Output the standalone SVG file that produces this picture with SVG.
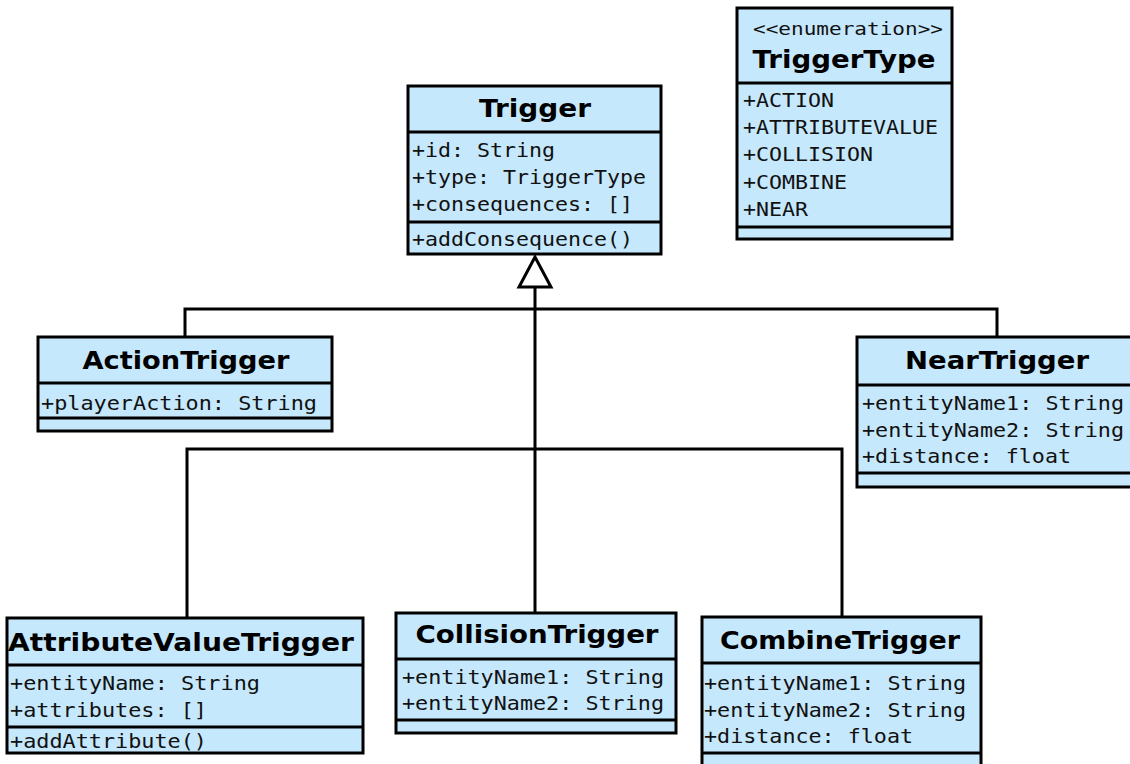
<svg xmlns="http://www.w3.org/2000/svg" width="1130" height="764" viewBox="0 0 1130 764">
  <style>
    .box { fill: #c6e8fc; stroke: #000; stroke-width: 3; }
    .div { stroke: #000; stroke-width: 3; }
    .title { font-family: "DejaVu Sans", "Liberation Sans", sans-serif; font-weight: bold; font-size: 24px; fill: #000; text-anchor: middle; }
    .mono { font-family: "DejaVu Sans Mono", "Liberation Mono", monospace; font-size: 20px; fill: #111; }
    .stereo { font-family: "DejaVu Sans Mono", "Liberation Mono", monospace; font-size: 17px; fill: #111; text-anchor: middle; }
    .edge { fill: none; stroke: #000; stroke-width: 3; }
    .head { fill: #fff; stroke: #000; stroke-width: 3; stroke-linejoin: miter; }
  </style>

  <rect width="1130" height="764" fill="#fff"/>

  <!-- generalization connectors -->
  <g id="connectors">
    <polyline class="edge" points="535,287 535,613"/>
    <polyline class="edge" points="185,337 185,309 997,309 997,337"/>
    <polyline class="edge" points="187,618 187,449 842,449 842,617"/>
    <polygon class="head" points="535,257 519,287 551,287"/>
  </g>

  <!-- Trigger -->
  <g id="Trigger">
    <rect class="box" x="408" y="86" width="253" height="168"/>
    <line class="div" x1="408" y1="132" x2="661" y2="132"/>
    <line class="div" x1="408" y1="222" x2="661" y2="222"/>
    <text class="title" x="535" y="117" textLength="112" lengthAdjust="spacingAndGlyphs">Trigger</text>
    <text class="mono" x="412" y="157" textLength="143" lengthAdjust="spacingAndGlyphs">+id: String</text>
    <text class="mono" x="412" y="184" textLength="234" lengthAdjust="spacingAndGlyphs">+type: TriggerType</text>
    <text class="mono" x="412" y="211" textLength="221" lengthAdjust="spacingAndGlyphs">+consequences: []</text>
    <text class="mono" x="412" y="246" textLength="221" lengthAdjust="spacingAndGlyphs">+addConsequence()</text>
  </g>

  <!-- TriggerType enumeration -->
  <g id="TriggerType">
    <rect class="box" x="737" y="8" width="215" height="231"/>
    <line class="div" x1="737" y1="83" x2="952" y2="83"/>
    <line class="div" x1="737" y1="227" x2="952" y2="227"/>
    <text class="stereo" x="848" y="35" textLength="190" lengthAdjust="spacingAndGlyphs">&lt;&lt;enumeration&gt;&gt;</text>
    <text class="title" x="844" y="68" textLength="183" lengthAdjust="spacingAndGlyphs">TriggerType</text>
    <text class="mono" x="743" y="107" textLength="91" lengthAdjust="spacingAndGlyphs">+ACTION</text>
    <text class="mono" x="743" y="134" textLength="195" lengthAdjust="spacingAndGlyphs">+ATTRIBUTEVALUE</text>
    <text class="mono" x="743" y="161" textLength="130" lengthAdjust="spacingAndGlyphs">+COLLISION</text>
    <text class="mono" x="743" y="189" textLength="104" lengthAdjust="spacingAndGlyphs">+COMBINE</text>
    <text class="mono" x="743" y="216" textLength="65" lengthAdjust="spacingAndGlyphs">+NEAR</text>
  </g>

  <!-- ActionTrigger -->
  <g id="ActionTrigger">
    <rect class="box" x="38" y="337" width="294" height="94"/>
    <line class="div" x1="38" y1="383" x2="332" y2="383"/>
    <line class="div" x1="38" y1="418" x2="332" y2="418"/>
    <text class="title" x="186" y="369" textLength="207" lengthAdjust="spacingAndGlyphs">ActionTrigger</text>
    <text class="mono" x="41" y="410" textLength="276" lengthAdjust="spacingAndGlyphs">+playerAction: String</text>
  </g>

  <!-- NearTrigger -->
  <g id="NearTrigger">
    <rect class="box" x="857" y="337" width="282" height="150"/>
    <line class="div" x1="857" y1="385" x2="1139" y2="385"/>
    <line class="div" x1="857" y1="473" x2="1139" y2="473"/>
    <text class="title" x="997" y="369" textLength="184" lengthAdjust="spacingAndGlyphs">NearTrigger</text>
    <text class="mono" x="862" y="410" textLength="262" lengthAdjust="spacingAndGlyphs">+entityName1: String</text>
    <text class="mono" x="862" y="437" textLength="262" lengthAdjust="spacingAndGlyphs">+entityName2: String</text>
    <text class="mono" x="862" y="463" textLength="209" lengthAdjust="spacingAndGlyphs">+distance: float</text>
  </g>

  <!-- AttributeValueTrigger -->
  <g id="AttributeValueTrigger">
    <rect class="box" x="7" y="618" width="356" height="135"/>
    <line class="div" x1="7" y1="665" x2="363" y2="665"/>
    <line class="div" x1="7" y1="727" x2="363" y2="727"/>
    <text class="title" x="181" y="651" textLength="346" lengthAdjust="spacingAndGlyphs">AttributeValueTrigger</text>
    <text class="mono" x="10" y="690" textLength="250" lengthAdjust="spacingAndGlyphs">+entityName: String</text>
    <text class="mono" x="10" y="717" textLength="197" lengthAdjust="spacingAndGlyphs">+attributes: []</text>
    <text class="mono" x="10" y="748" textLength="197" lengthAdjust="spacingAndGlyphs">+addAttribute()</text>
  </g>

  <!-- CollisionTrigger -->
  <g id="CollisionTrigger">
    <rect class="box" x="396" y="613" width="280" height="120"/>
    <line class="div" x1="396" y1="659" x2="676" y2="659"/>
    <line class="div" x1="396" y1="720" x2="676" y2="720"/>
    <text class="title" x="537" y="643" textLength="243" lengthAdjust="spacingAndGlyphs">CollisionTrigger</text>
    <text class="mono" x="402" y="684" textLength="262" lengthAdjust="spacingAndGlyphs">+entityName1: String</text>
    <text class="mono" x="402" y="710" textLength="262" lengthAdjust="spacingAndGlyphs">+entityName2: String</text>
  </g>

  <!-- CombineTrigger -->
  <g id="CombineTrigger">
    <rect class="box" x="702" y="617" width="279" height="160"/>
    <line class="div" x1="702" y1="663" x2="981" y2="663"/>
    <line class="div" x1="702" y1="753" x2="981" y2="753"/>
    <text class="title" x="840" y="649" textLength="240" lengthAdjust="spacingAndGlyphs">CombineTrigger</text>
    <text class="mono" x="704" y="690" textLength="262" lengthAdjust="spacingAndGlyphs">+entityName1: String</text>
    <text class="mono" x="704" y="717" textLength="262" lengthAdjust="spacingAndGlyphs">+entityName2: String</text>
    <text class="mono" x="704" y="743" textLength="209" lengthAdjust="spacingAndGlyphs">+distance: float</text>
  </g>
</svg>
